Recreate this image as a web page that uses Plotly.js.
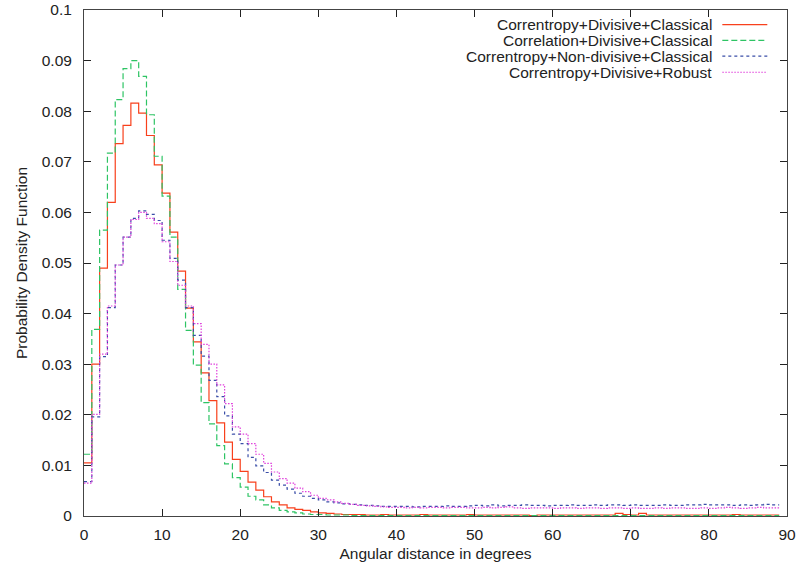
<!DOCTYPE html>
<html>
<head>
<meta charset="utf-8">
<script src="https://cdn.plot.ly/plotly-3.0.1.min.js"></script>
<style>
  html, body { margin: 0; padding: 0; background: #fff; }
  #chart { width: 800px; height: 567px; }
</style>
</head>
<body>
<div id="chart"></div>
<script>
// Left edges of the 1-degree histogram bins (last entry closes the final bin)
const binEdges = [0,1,2,3,4,5,6,7,8,9,10,11,12,13,14,15,16,17,18,19,
  20,21,22,23,24,25,26,27,28,29,30,31,32,33,34,35,36,37,38,39,
  40,41,42,43,44,45,46,47,48,49,50,51,52,53,54,55,56,57,58,59,
  60,61,62,63,64,65,66,67,68,69,70,71,72,73,74,75,76,77,78,79,
  80,81,82,83,84,85,86,87,88,89];

const seriesNames = [
  "Correntropy+Divisive+Classical",
  "Correlation+Divisive+Classical",
  "Correntropy+Non-divisive+Classical",
  "Correntropy+Divisive+Robust"
];

const corrDivClassical = [
  0.0105,0.0300,0.0490,0.0620,0.0736,0.0772,0.0816,0.0796,0.0752,0.0694,
  0.0638,0.0561,0.0484,0.0411,0.0344,0.0283,0.0228,0.0184,0.0146,0.0112,
  0.0088,0.0067,0.0051,0.0038,0.0028,0.0022,0.0016,0.0013,0.0011,0.0008,
  0.0006,0.0005,0.0004,0.0003,0.0003,0.0003,0.0002,0.0002,0.0003,0.0002,
  0.0002,0.0002,0.0002,0.0003,0.0002,0.0002,0.0002,0.0002,0.0002,0.0003,
  0.0002,0.0002,0.0002,0.0002,0.0002,0.0002,0.0002,0.0001,0.0002,0.0002,
  0.0002,0.0002,0.0002,0.0002,0.0002,0.0002,0.0002,0.0002,0.0005,0.0003,
  0.0002,0.0005,0.0002,0.0002,0.0002,0.0002,0.0002,0.0002,0.0002,0.0002,
  0.0002,0.0002,0.0002,0.0003,0.0002,0.0002,0.0002,0.0002,0.0002
];

const correlationDivClassical = [
  0.0122,0.0369,0.0565,0.0717,0.0823,0.0884,0.0900,0.0869,0.0793,0.0711,
  0.0632,0.0551,0.0448,0.0367,0.0298,0.0224,0.0182,0.0139,0.0103,0.0076,
  0.0057,0.0039,0.0032,0.0022,0.0016,0.0011,0.0008,0.0006,0.0004,0.0003,
  0.0003,0.0002,0.0002,0.0002,0.0001,0.0001,0.0001,0.0001,0.0001,0.0001,
  0.0001,0.0001,0.0001,0.0001,0.0001,0.0001,0.0001,0.0001,0.0001,0.0001,
  0.0001,0.0001,0.0001,0.0001,0.0001,0.0001,0.0001,0.0001,0.0001,0.0001,
  0.0001,0.0001,0.0001,0.0001,0.0001,0.0001,0.0001,0.0001,0.0001,0.0001,
  0.0001,0.0001,0.0001,0.0001,0.0001,0.0001,0.0001,0.0001,0.0001,0.0001,
  0.0001,0.0001,0.0001,0.0001,0.0001,0.0001,0.0001,0.0001,0.0001
];

const corrNonDivClassical = [
  0.0068,0.0196,0.0315,0.0412,0.0496,0.0551,0.0588,0.0603,0.0596,0.0584,
  0.0545,0.0509,0.0466,0.0412,0.0357,0.0316,0.0268,0.0236,0.0198,0.0162,
  0.0143,0.0116,0.0099,0.0086,0.0071,0.0061,0.0053,0.0045,0.0039,0.0035,
  0.0032,0.0028,0.0026,0.0024,0.0023,0.0022,0.0021,0.0020,0.0019,0.0019,
  0.0019,0.0019,0.0018,0.0019,0.0019,0.0019,0.0020,0.0019,0.0019,0.0020,
  0.0021,0.0020,0.0022,0.0020,0.0021,0.0021,0.0022,0.0021,0.0021,0.0020,
  0.0021,0.0021,0.0022,0.0021,0.0021,0.0022,0.0021,0.0022,0.0022,0.0021,
  0.0022,0.0021,0.0021,0.0021,0.0022,0.0021,0.0021,0.0022,0.0022,0.0023,
  0.0022,0.0022,0.0022,0.0021,0.0022,0.0021,0.0022,0.0023,0.0022
];

const corrDivRobust = [
  0.0065,0.0201,0.0320,0.0415,0.0496,0.0551,0.0586,0.0600,0.0588,0.0578,
  0.0542,0.0503,0.0456,0.0415,0.0380,0.0339,0.0300,0.0259,0.0222,0.0176,
  0.0162,0.0143,0.0122,0.0104,0.0087,0.0074,0.0065,0.0055,0.0048,0.0041,
  0.0035,0.0032,0.0028,0.0025,0.0023,0.0021,0.0020,0.0019,0.0018,0.0017,
  0.0017,0.0016,0.0017,0.0016,0.0017,0.0017,0.0016,0.0017,0.0017,0.0016,
  0.0016,0.0017,0.0016,0.0017,0.0018,0.0016,0.0015,0.0016,0.0016,0.0016,
  0.0015,0.0016,0.0016,0.0015,0.0016,0.0016,0.0015,0.0016,0.0016,0.0015,
  0.0016,0.0015,0.0015,0.0016,0.0015,0.0016,0.0016,0.0015,0.0015,0.0016,
  0.0015,0.0016,0.0017,0.0016,0.0015,0.0016,0.0017,0.0016,0.0016
];

const xTickVals = [0,10,20,30,40,50,60,70,80,90];
const yTickVals = [0,0.01,0.02,0.03,0.04,0.05,0.06,0.07,0.08,0.09,0.1];
const yTickText = ["0","0.01","0.02","0.03","0.04","0.05","0.06","0.07","0.08","0.09","0.1"];

const colors = ["#f8401c", "#2ec464", "#3a4ea8", "#e040dc"];
const dashes = ["solid", "6px,3px", "3px,3px", "1.5px,1.5px"];
const allSeries = [corrDivClassical, correlationDivClassical, corrNonDivClassical, corrDivRobust];
const fontFamily = "Liberation Sans, Arial, sans-serif";

// close each step outline at the right edge of the last bin
const traces = allSeries.map((vals, i) => ({
  type: "scatter",
  mode: "lines",
  name: seriesNames[i],
  x: binEdges,
  y: vals.concat([vals[vals.length - 1]]),
  line: { shape: "hv", color: colors[i], width: 1.2, dash: dashes[i] },
  showlegend: false,
  hoverinfo: "x+y"
}));

// gnuplot-style legend: right-aligned text with line sample to its right
const legendRowsY = [0.971, 0.940, 0.909, 0.877];
const annotations = seriesNames.map((n, i) => ({
  xref: "paper", yref: "paper",
  x: 0.896, y: legendRowsY[i],
  xanchor: "right", yanchor: "middle",
  text: n, showarrow: false,
  font: { family: fontFamily, size: 15.5, color: "#222" }
}));
const shapes = seriesNames.map((n, i) => ({
  type: "line", xref: "paper", yref: "paper",
  x0: 0.908, x1: 0.972, y0: legendRowsY[i], y1: legendRowsY[i],
  line: { color: colors[i], width: 1.2, dash: dashes[i] }
}));

const axisCommon = {
  showline: true, linecolor: "#444", linewidth: 1, mirror: "allticks",
  ticks: "inside", ticklen: 7, tickcolor: "#222", tickwidth: 1,
  showgrid: false, zeroline: false,
  tickfont: { family: fontFamily, size: 15.5, color: "#222" }
};

const layout = {
  width: 800, height: 567,
  margin: { l: 84, r: 13, t: 10, b: 51 },
  paper_bgcolor: "#fff", plot_bgcolor: "#fff",
  showlegend: false,
  xaxis: Object.assign({}, axisCommon, {
    range: [0, 90], tickvals: xTickVals, ticklabelstandoff: 4,
    title: { text: "Angular distance in degrees", standoff: 6,
      font: { family: fontFamily, size: 15.5, color: "#222" } }
  }),
  yaxis: Object.assign({}, axisCommon, {
    range: [0, 0.1], tickvals: yTickVals, ticktext: yTickText, ticklabelstandoff: 8,
    title: { text: "Probability Density Function", standoff: 10,
      font: { family: fontFamily, size: 15.5, color: "#222" } }
  }),
  annotations: annotations,
  shapes: shapes
};

Plotly.newPlot("chart", traces, layout, { displayModeBar: false, staticPlot: true });
</script>
</body>
</html>
